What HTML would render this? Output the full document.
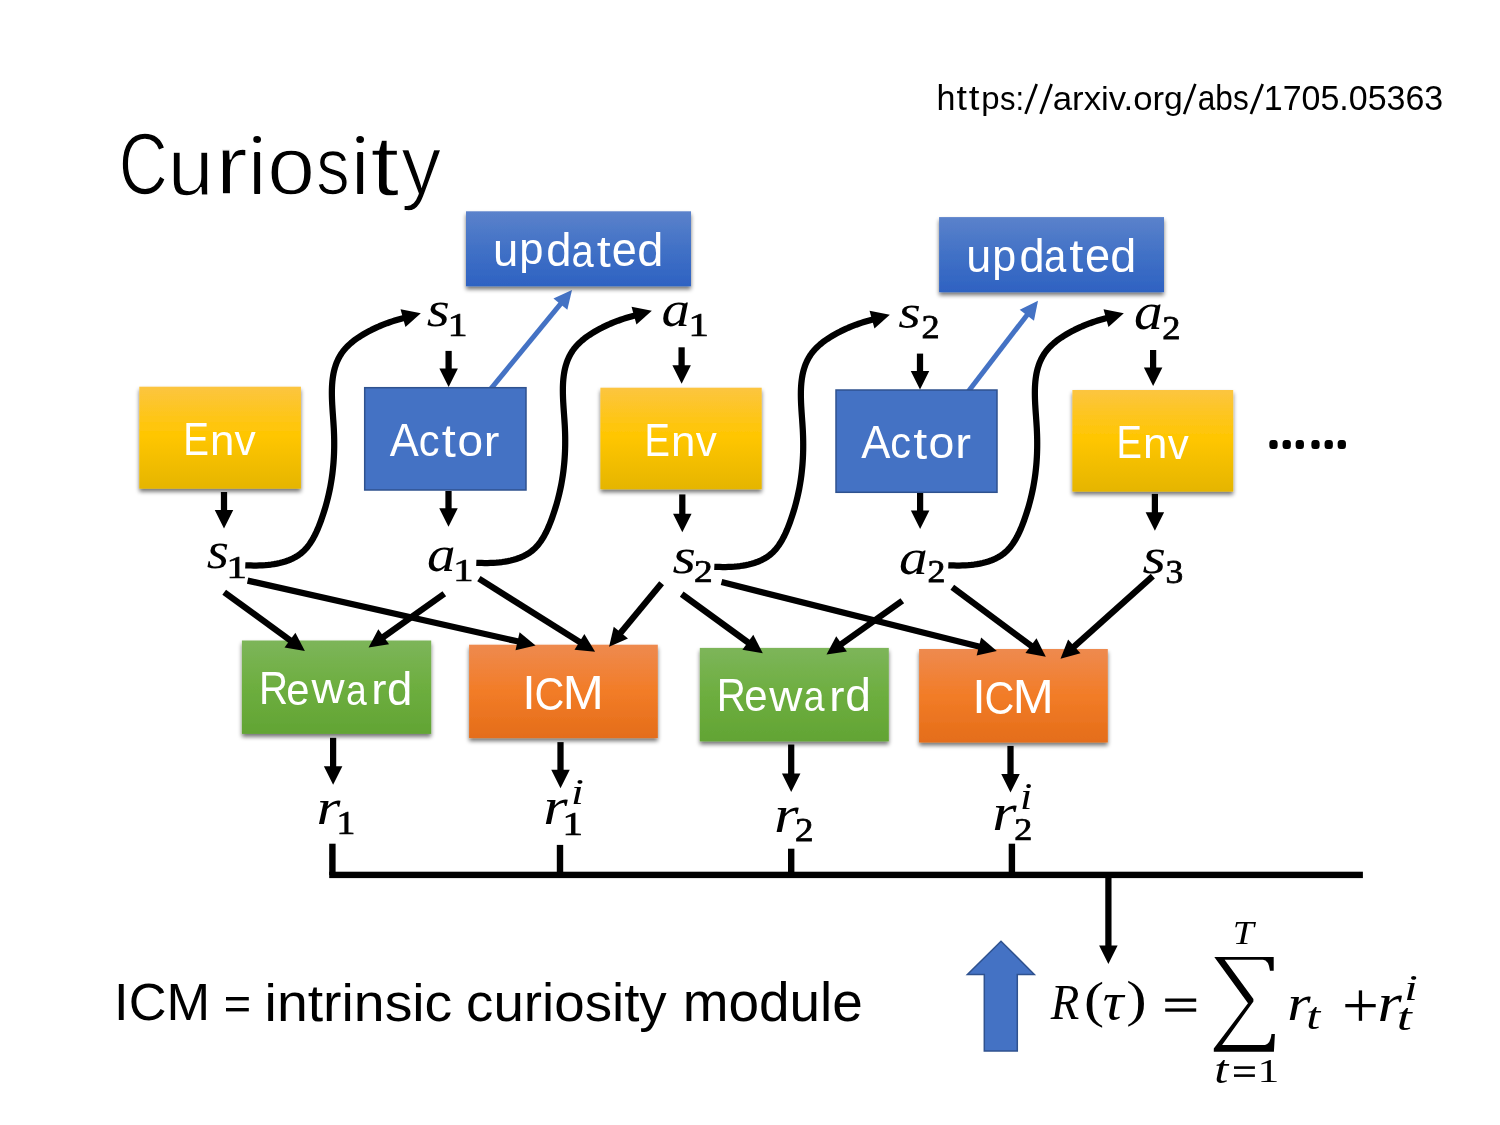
<!DOCTYPE html>
<html><head><meta charset="utf-8"><style>html,body{margin:0;padding:0;background:#fff;}svg{display:block;will-change:transform;}</style></head>
<body><svg width="1500" height="1125" viewBox="0 0 1500 1125">
<rect width="1500" height="1125" fill="#fff"/>
<defs>
<filter id="sh" x="-20%" y="-30%" width="140%" height="170%">
  <feGaussianBlur in="SourceAlpha" stdDeviation="2.2"/>
  <feOffset dx="0.3" dy="2.8" result="b"/>
  <feComponentTransfer><feFuncA type="linear" slope="0.55"/></feComponentTransfer>
  <feMerge><feMergeNode/><feMergeNode in="SourceGraphic"/></feMerge>
</filter>
<linearGradient id="gEnv" x1="0" y1="0" x2="0" y2="1">
  <stop offset="0" stop-color="#FCC540"/><stop offset="0.48" stop-color="#FFC600"/><stop offset="1" stop-color="#E5B500"/></linearGradient>
<linearGradient id="gBlue" x1="0" y1="0" x2="0" y2="1">
  <stop offset="0" stop-color="#5B82CB"/><stop offset="0.5" stop-color="#4171C6"/><stop offset="1" stop-color="#2E62C2"/></linearGradient>
<linearGradient id="gGreen" x1="0" y1="0" x2="0" y2="1">
  <stop offset="0" stop-color="#7DB55A"/><stop offset="0.5" stop-color="#6DAE3F"/><stop offset="1" stop-color="#62A434"/></linearGradient>
<linearGradient id="gOrange" x1="0" y1="0" x2="0" y2="1">
  <stop offset="0" stop-color="#EE8A4F"/><stop offset="0.5" stop-color="#F27C27"/><stop offset="1" stop-color="#E46D1A"/></linearGradient>
</defs>
<line x1="490.40" y1="389.30" x2="561.02" y2="303.37" stroke="#4472C4" stroke-width="5" stroke-linecap="butt"/><polygon points="572.00,290.00 567.33,309.85 553.43,298.42" fill="#4472C4"/>
<line x1="967.90" y1="391.90" x2="1027.46" y2="314.42" stroke="#4472C4" stroke-width="5" stroke-linecap="butt"/><polygon points="1038.00,300.70 1033.98,320.69 1019.71,309.72" fill="#4472C4"/>
<rect x="466" y="211.3" width="225.00" height="75.00" fill="url(#gBlue)" filter="url(#sh)"/>
<rect x="939.1" y="217.1" width="224.90" height="75.10" fill="url(#gBlue)" filter="url(#sh)"/>
<rect x="139.3" y="386.7" width="161.60" height="102.00" fill="url(#gEnv)" filter="url(#sh)"/>
<rect x="364.7" y="387.7" width="161.30" height="102.30" fill="#4472C4" stroke="#2F528F" stroke-width="1.5"/>
<rect x="600.4" y="387.7" width="161.30" height="101.60" fill="url(#gEnv)" filter="url(#sh)"/>
<rect x="836" y="390" width="161.00" height="102.30" fill="#4472C4" stroke="#2F528F" stroke-width="1.5"/>
<rect x="1072.4" y="390" width="160.80" height="101.60" fill="url(#gEnv)" filter="url(#sh)"/>
<rect x="241.9" y="640.5" width="189.30" height="93.40" fill="url(#gGreen)" filter="url(#sh)"/>
<rect x="469.1" y="644.7" width="188.70" height="93.40" fill="url(#gOrange)" filter="url(#sh)"/>
<rect x="699.8" y="647.9" width="189.00" height="93.50" fill="url(#gGreen)" filter="url(#sh)"/>
<rect x="919.1" y="649" width="188.70" height="93.50" fill="url(#gOrange)" filter="url(#sh)"/>
<line x1="448.60" y1="350.90" x2="448.60" y2="369.40" stroke="#000" stroke-width="6.25" stroke-linecap="butt"/><polygon points="448.60,386.90 439.35,368.40 457.85,368.40" fill="#000"/>
<line x1="681.60" y1="347.30" x2="681.60" y2="366.30" stroke="#000" stroke-width="6.25" stroke-linecap="butt"/><polygon points="681.60,383.80 672.35,365.30 690.85,365.30" fill="#000"/>
<line x1="920.00" y1="353.60" x2="920.00" y2="372.10" stroke="#000" stroke-width="6.25" stroke-linecap="butt"/><polygon points="920.00,389.60 910.75,371.10 929.25,371.10" fill="#000"/>
<line x1="1153.10" y1="350.00" x2="1153.10" y2="368.50" stroke="#000" stroke-width="6.25" stroke-linecap="butt"/><polygon points="1153.10,386.00 1143.85,367.50 1162.35,367.50" fill="#000"/>
<line x1="224.00" y1="492.00" x2="224.00" y2="511.00" stroke="#000" stroke-width="6.25" stroke-linecap="butt"/><polygon points="224.00,528.50 214.75,510.00 233.25,510.00" fill="#000"/>
<line x1="448.50" y1="491.00" x2="448.50" y2="509.20" stroke="#000" stroke-width="6.25" stroke-linecap="butt"/><polygon points="448.50,526.70 439.25,508.20 457.75,508.20" fill="#000"/>
<line x1="682.30" y1="494.40" x2="682.30" y2="514.80" stroke="#000" stroke-width="6.25" stroke-linecap="butt"/><polygon points="682.30,532.30 673.05,513.80 691.55,513.80" fill="#000"/>
<line x1="920.10" y1="493.00" x2="920.10" y2="511.60" stroke="#000" stroke-width="6.25" stroke-linecap="butt"/><polygon points="920.10,529.10 910.85,510.60 929.35,510.60" fill="#000"/>
<line x1="1154.90" y1="493.90" x2="1154.90" y2="513.20" stroke="#000" stroke-width="6.25" stroke-linecap="butt"/><polygon points="1154.90,530.70 1145.65,512.20 1164.15,512.20" fill="#000"/>
<line x1="333.10" y1="737.80" x2="333.10" y2="767.20" stroke="#000" stroke-width="6.25" stroke-linecap="butt"/><polygon points="333.10,784.70 323.85,766.20 342.35,766.20" fill="#000"/>
<line x1="560.50" y1="742.10" x2="560.50" y2="770.80" stroke="#000" stroke-width="6.25" stroke-linecap="butt"/><polygon points="560.50,788.30 551.25,769.80 569.75,769.80" fill="#000"/>
<line x1="791.20" y1="744.50" x2="791.20" y2="774.40" stroke="#000" stroke-width="6.25" stroke-linecap="butt"/><polygon points="791.20,791.90 781.95,773.40 800.45,773.40" fill="#000"/>
<line x1="1010.50" y1="745.90" x2="1010.50" y2="775.10" stroke="#000" stroke-width="6.25" stroke-linecap="butt"/><polygon points="1010.50,792.60 1001.25,774.10 1019.75,774.10" fill="#000"/>
<line x1="1108.40" y1="878.00" x2="1108.40" y2="946.60" stroke="#000" stroke-width="6.25" stroke-linecap="butt"/><polygon points="1108.40,964.10 1099.15,945.60 1117.65,945.60" fill="#000"/>
<path d="M245.30,565.30 L248.02,565.41 L250.81,565.48 L253.63,565.52 L256.50,565.51 L259.39,565.44 L262.31,565.32 L265.23,565.13 L268.16,564.87 L271.08,564.53 L273.98,564.11 L276.86,563.60 L279.70,563.00 L282.50,562.29 L285.25,561.48 L287.94,560.56 L290.56,559.51 L293.09,558.34 L295.54,557.04 L297.89,555.61 L300.14,554.02 L302.27,552.30 L304.28,550.42 L306.17,548.39 L307.96,546.25 L309.63,543.98 L311.22,541.61 L312.71,539.15 L314.11,536.61 L315.44,533.99 L316.69,531.33 L317.88,528.62 L319.00,525.87 L320.07,523.11 L321.09,520.33 L322.07,517.56 L323.01,514.80 L323.91,512.04 L324.76,509.28 L325.58,506.52 L326.36,503.77 L327.09,501.02 L327.79,498.27 L328.45,495.52 L329.07,492.78 L329.66,490.03 L330.21,487.28 L330.72,484.52 L331.19,481.77 L331.63,479.01 L332.03,476.25 L332.40,473.48 L332.73,470.71 L333.02,467.94 L333.29,465.16 L333.52,462.37 L333.71,459.57 L333.88,456.77 L334.01,453.95 L334.10,451.13 L334.17,448.30 L334.20,445.46 L334.21,442.61 L334.18,439.74 L334.12,436.87 L334.04,433.98 L333.92,431.08 L333.78,428.16 L333.60,425.23 L333.41,422.29 L333.21,419.34 L333.00,416.39 L332.79,413.44 L332.58,410.48 L332.39,407.53 L332.22,404.59 L332.07,401.65 L331.96,398.73 L331.89,395.82 L331.86,392.93 L331.89,390.06 L331.97,387.21 L332.12,384.39 L332.35,381.59 L332.65,378.83 L333.03,376.10 L333.51,373.41 L334.09,370.75 L334.78,368.14 L335.57,365.58 L336.48,363.06 L337.52,360.59 L338.69,358.18 L340.00,355.82 L341.45,353.52 L343.06,351.29 L344.82,349.12 L346.74,347.01 L348.82,344.98 L351.03,343.01 L353.35,341.11 L355.78,339.29 L358.29,337.54 L360.86,335.86 L363.49,334.26 L366.14,332.73 L368.81,331.29 L371.47,329.91 L374.12,328.62 L376.74,327.41 L379.33,326.26 L381.91,325.19 L384.48,324.17 L387.05,323.20 L389.64,322.29 L392.24,321.41 L394.87,320.57 L397.53,319.76 L400.24,318.97 L403.00,318.20 L403.96,317.94" fill="none" stroke="#000" stroke-width="6.25" stroke-linecap="butt" stroke-linejoin="round"/><polygon points="420.84,313.30 405.45,327.12 400.55,309.28" fill="#000"/>
<path d="M476.30,562.80 L479.02,562.91 L481.81,562.98 L484.63,563.02 L487.50,563.01 L490.39,562.94 L493.31,562.82 L496.23,562.63 L499.16,562.37 L502.08,562.03 L504.98,561.61 L507.86,561.10 L510.70,560.50 L513.50,559.79 L516.25,558.98 L518.94,558.06 L521.56,557.01 L524.09,555.84 L526.54,554.54 L528.89,553.11 L531.14,551.52 L533.27,549.80 L535.28,547.92 L537.17,545.89 L538.96,543.75 L540.63,541.48 L542.22,539.11 L543.71,536.65 L545.11,534.11 L546.44,531.49 L547.69,528.83 L548.88,526.12 L550.00,523.37 L551.07,520.61 L552.09,517.83 L553.07,515.06 L554.01,512.30 L554.91,509.54 L555.76,506.78 L556.58,504.02 L557.36,501.27 L558.09,498.52 L558.79,495.77 L559.45,493.02 L560.07,490.28 L560.66,487.53 L561.21,484.78 L561.72,482.02 L562.19,479.27 L562.63,476.51 L563.03,473.75 L563.40,470.98 L563.73,468.21 L564.02,465.44 L564.29,462.66 L564.52,459.87 L564.71,457.07 L564.88,454.27 L565.01,451.45 L565.10,448.63 L565.17,445.80 L565.20,442.96 L565.21,440.11 L565.18,437.24 L565.12,434.37 L565.04,431.48 L564.92,428.58 L564.78,425.66 L564.60,422.73 L564.41,419.79 L564.21,416.84 L564.00,413.89 L563.79,410.94 L563.58,407.98 L563.39,405.03 L563.22,402.09 L563.07,399.15 L562.96,396.23 L562.89,393.32 L562.86,390.43 L562.89,387.56 L562.97,384.71 L563.12,381.89 L563.35,379.09 L563.65,376.33 L564.03,373.60 L564.51,370.91 L565.09,368.25 L565.78,365.64 L566.57,363.08 L567.48,360.56 L568.52,358.09 L569.69,355.68 L571.00,353.32 L572.45,351.02 L574.06,348.79 L575.82,346.62 L577.74,344.51 L579.82,342.48 L582.03,340.51 L584.35,338.61 L586.78,336.79 L589.29,335.04 L591.86,333.36 L594.49,331.76 L597.14,330.23 L599.81,328.79 L602.47,327.41 L605.12,326.12 L607.74,324.91 L610.33,323.76 L612.91,322.69 L615.48,321.67 L618.05,320.70 L620.64,319.79 L623.24,318.91 L625.87,318.07 L628.53,317.26 L631.24,316.47 L634.00,315.70 L634.96,315.44" fill="none" stroke="#000" stroke-width="6.25" stroke-linecap="butt" stroke-linejoin="round"/><polygon points="651.84,310.80 636.45,324.62 631.55,306.78" fill="#000"/>
<path d="M714.30,566.80 L717.02,566.91 L719.81,566.98 L722.63,567.02 L725.50,567.01 L728.39,566.94 L731.31,566.82 L734.23,566.63 L737.16,566.37 L740.08,566.03 L742.98,565.61 L745.86,565.10 L748.70,564.50 L751.50,563.79 L754.25,562.98 L756.94,562.06 L759.56,561.01 L762.09,559.84 L764.54,558.54 L766.89,557.11 L769.14,555.52 L771.27,553.80 L773.28,551.92 L775.17,549.89 L776.96,547.75 L778.63,545.48 L780.22,543.11 L781.71,540.65 L783.11,538.11 L784.44,535.49 L785.69,532.83 L786.88,530.12 L788.00,527.37 L789.07,524.61 L790.09,521.83 L791.07,519.06 L792.01,516.30 L792.91,513.54 L793.76,510.78 L794.58,508.02 L795.36,505.27 L796.09,502.52 L796.79,499.77 L797.45,497.02 L798.07,494.28 L798.66,491.53 L799.21,488.78 L799.72,486.02 L800.19,483.27 L800.63,480.51 L801.03,477.75 L801.40,474.98 L801.73,472.21 L802.02,469.44 L802.29,466.66 L802.52,463.87 L802.71,461.07 L802.88,458.27 L803.01,455.45 L803.10,452.63 L803.17,449.80 L803.20,446.96 L803.21,444.11 L803.18,441.24 L803.12,438.37 L803.04,435.48 L802.92,432.58 L802.78,429.66 L802.60,426.73 L802.41,423.79 L802.21,420.84 L802.00,417.89 L801.79,414.94 L801.58,411.98 L801.39,409.03 L801.22,406.09 L801.07,403.15 L800.96,400.23 L800.89,397.32 L800.86,394.43 L800.89,391.56 L800.97,388.71 L801.12,385.89 L801.35,383.09 L801.65,380.33 L802.03,377.60 L802.51,374.91 L803.09,372.25 L803.78,369.64 L804.57,367.08 L805.48,364.56 L806.52,362.09 L807.69,359.68 L809.00,357.32 L810.45,355.02 L812.06,352.79 L813.82,350.62 L815.74,348.51 L817.82,346.48 L820.03,344.51 L822.35,342.61 L824.78,340.79 L827.29,339.04 L829.86,337.36 L832.49,335.76 L835.14,334.23 L837.81,332.79 L840.47,331.41 L843.12,330.12 L845.74,328.91 L848.33,327.76 L850.91,326.69 L853.48,325.67 L856.05,324.70 L858.64,323.79 L861.24,322.91 L863.87,322.07 L866.53,321.26 L869.24,320.47 L872.00,319.70 L872.96,319.44" fill="none" stroke="#000" stroke-width="6.25" stroke-linecap="butt" stroke-linejoin="round"/><polygon points="889.84,314.80 874.45,328.62 869.55,310.78" fill="#000"/>
<path d="M948.30,565.30 L951.02,565.41 L953.81,565.48 L956.63,565.52 L959.50,565.51 L962.39,565.44 L965.31,565.32 L968.23,565.13 L971.16,564.87 L974.08,564.53 L976.98,564.11 L979.86,563.60 L982.70,563.00 L985.50,562.29 L988.25,561.48 L990.94,560.56 L993.56,559.51 L996.09,558.34 L998.54,557.04 L1000.89,555.61 L1003.14,554.02 L1005.27,552.30 L1007.28,550.42 L1009.17,548.39 L1010.96,546.25 L1012.63,543.98 L1014.22,541.61 L1015.71,539.15 L1017.11,536.61 L1018.44,533.99 L1019.69,531.33 L1020.88,528.62 L1022.00,525.87 L1023.07,523.11 L1024.09,520.33 L1025.07,517.56 L1026.01,514.80 L1026.91,512.04 L1027.76,509.28 L1028.58,506.52 L1029.36,503.77 L1030.09,501.02 L1030.79,498.27 L1031.45,495.52 L1032.07,492.78 L1032.66,490.03 L1033.21,487.28 L1033.72,484.52 L1034.19,481.77 L1034.63,479.01 L1035.03,476.25 L1035.40,473.48 L1035.73,470.71 L1036.02,467.94 L1036.29,465.16 L1036.52,462.37 L1036.71,459.57 L1036.88,456.77 L1037.01,453.95 L1037.10,451.13 L1037.17,448.30 L1037.20,445.46 L1037.21,442.61 L1037.18,439.74 L1037.12,436.87 L1037.04,433.98 L1036.92,431.08 L1036.78,428.16 L1036.60,425.23 L1036.41,422.29 L1036.21,419.34 L1036.00,416.39 L1035.79,413.44 L1035.58,410.48 L1035.39,407.53 L1035.22,404.59 L1035.07,401.65 L1034.96,398.73 L1034.89,395.82 L1034.86,392.93 L1034.89,390.06 L1034.97,387.21 L1035.12,384.39 L1035.35,381.59 L1035.65,378.83 L1036.03,376.10 L1036.51,373.41 L1037.09,370.75 L1037.78,368.14 L1038.57,365.58 L1039.48,363.06 L1040.52,360.59 L1041.69,358.18 L1043.00,355.82 L1044.45,353.52 L1046.06,351.29 L1047.82,349.12 L1049.74,347.01 L1051.82,344.98 L1054.03,343.01 L1056.35,341.11 L1058.78,339.29 L1061.29,337.54 L1063.86,335.86 L1066.49,334.26 L1069.14,332.73 L1071.81,331.29 L1074.47,329.91 L1077.12,328.62 L1079.74,327.41 L1082.33,326.26 L1084.91,325.19 L1087.48,324.17 L1090.05,323.20 L1092.64,322.29 L1095.24,321.41 L1097.87,320.57 L1100.53,319.76 L1103.24,318.97 L1106.00,318.20 L1106.96,317.94" fill="none" stroke="#000" stroke-width="6.25" stroke-linecap="butt" stroke-linejoin="round"/><polygon points="1123.84,313.30 1108.45,327.12 1103.55,309.28" fill="#000"/>
<line x1="224.20" y1="592.20" x2="290.76" y2="640.69" stroke="#000" stroke-width="6.25" stroke-linecap="butt"/><polygon points="304.90,651.00 284.50,647.58 295.40,632.63" fill="#000"/>
<line x1="247.60" y1="580.60" x2="518.53" y2="641.56" stroke="#000" stroke-width="6.25" stroke-linecap="butt"/><polygon points="535.60,645.40 515.52,650.36 519.58,632.31" fill="#000"/>
<line x1="444.30" y1="593.80" x2="382.87" y2="637.37" stroke="#000" stroke-width="6.25" stroke-linecap="butt"/><polygon points="368.60,647.50 378.34,629.25 389.04,644.34" fill="#000"/>
<line x1="478.90" y1="578.70" x2="580.28" y2="642.39" stroke="#000" stroke-width="6.25" stroke-linecap="butt"/><polygon points="595.10,651.70 574.51,649.69 584.36,634.03" fill="#000"/>
<line x1="661.60" y1="583.30" x2="620.25" y2="633.31" stroke="#000" stroke-width="6.25" stroke-linecap="butt"/><polygon points="609.10,646.80 613.76,626.65 628.02,638.44" fill="#000"/>
<line x1="681.70" y1="594.10" x2="748.66" y2="642.89" stroke="#000" stroke-width="6.25" stroke-linecap="butt"/><polygon points="762.80,653.20 742.40,649.78 753.30,634.83" fill="#000"/>
<line x1="721.50" y1="582.00" x2="979.83" y2="646.84" stroke="#000" stroke-width="6.25" stroke-linecap="butt"/><polygon points="996.80,651.10 976.60,655.57 981.11,637.62" fill="#000"/>
<line x1="902.30" y1="600.80" x2="840.77" y2="644.47" stroke="#000" stroke-width="6.25" stroke-linecap="butt"/><polygon points="826.50,654.60 836.23,636.35 846.94,651.44" fill="#000"/>
<line x1="952.30" y1="587.20" x2="1031.76" y2="646.26" stroke="#000" stroke-width="6.25" stroke-linecap="butt"/><polygon points="1045.80,656.70 1025.43,653.09 1036.47,638.24" fill="#000"/>
<line x1="1152.80" y1="576.20" x2="1073.54" y2="647.13" stroke="#000" stroke-width="6.25" stroke-linecap="butt"/><polygon points="1060.50,658.80 1068.12,639.57 1080.45,653.36" fill="#000"/>
<rect x="329.20" y="843.7" width="6.4" height="31.30" fill="#000"/>
<rect x="556.80" y="844.9" width="6.4" height="30.10" fill="#000"/>
<rect x="788.00" y="848.7" width="6.4" height="26.30" fill="#000"/>
<rect x="1008.70" y="843.7" width="6.4" height="31.30" fill="#000"/>
<rect x="329.2" y="871.7" width="1033.7" height="6.4" fill="#000"/>
<line x1="1025.50" y1="113.90" x2="1036.70" y2="84.00" stroke="#000" stroke-width="2.7"/>
<line x1="1040.60" y1="113.90" x2="1051.60" y2="84.00" stroke="#000" stroke-width="2.7"/>
<line x1="1184.10" y1="114.10" x2="1195.30" y2="83.90" stroke="#000" stroke-width="2.7"/>
<line x1="1250.90" y1="114.10" x2="1262.70" y2="83.90" stroke="#000" stroke-width="2.7"/>
<rect x="254.2" y="152.1" width="5.9" height="42" rx="1.2" fill="#000"/>
<ellipse cx="257.15" cy="139.45" rx="3.85" ry="3.5" fill="#000"/>
<rect x="357.2" y="152.1" width="5.9" height="42" rx="1.2" fill="#000"/>
<ellipse cx="360.15" cy="139.45" rx="3.85" ry="3.5" fill="#000"/>
<rect x="1269.35" y="440" width="8.3" height="8.9" rx="3" ry="3.5" fill="#000"/>
<rect x="1282.55" y="440" width="8.3" height="8.9" rx="3" ry="3.5" fill="#000"/>
<rect x="1295.65" y="440" width="8.3" height="8.9" rx="3" ry="3.5" fill="#000"/>
<rect x="1311.35" y="440" width="8.3" height="8.9" rx="3" ry="3.5" fill="#000"/>
<rect x="1324.55" y="440" width="8.3" height="8.9" rx="3" ry="3.5" fill="#000"/>
<rect x="1337.65" y="440" width="8.3" height="8.9" rx="3" ry="3.5" fill="#000"/>
<polygon points="1001,941.2 1034.3,974.4 1017.3,974.4 1017.3,1050.9 984.3,1050.9 984.3,974.4 967.4,974.4" fill="#4472C4" stroke="#2F528F" stroke-width="1.5"/>
<path d="M1214.3,957 L1273.7,957 L1273.7,970.7 L1270,970.7 Q1268.5,960 1263,959.8 L1224.6,959.8 L1253.4,999 L1253.4,1001.5 L1222.1,1044.9 L1265,1044.9 Q1270.5,1044 1271.5,1034.1 L1274.9,1034.1 L1273.9,1051.7 L1213.8,1051.7 L1213.8,1048.5 L1248,1003.3 Z" fill="#000"/>
<rect x="1165.2" y="998.5" width="31" height="3.3" fill="#000"/><rect x="1165.2" y="1008.4" width="31" height="3.3" fill="#000"/>
<rect x="226" y="997" width="22.8" height="3.4" fill="#000"/><rect x="226" y="1008" width="22.8" height="3.4" fill="#000"/>
<rect x="1234" y="1066.3" width="20.9" height="2.6" fill="#000"/><rect x="1234" y="1074.3" width="20.9" height="2.6" fill="#000"/>
<rect x="1345.3" y="1004" width="30.4" height="3.3" fill="#000"/><rect x="1358.8" y="990.4" width="3.3" height="30.4" fill="#000"/>
<text transform="matrix(0.75987 0 0 0.96682 118.79 194.31)" font-family="&quot;Liberation Sans&quot;, sans-serif" font-style="normal" font-size="89.25" fill="#000" stroke="#fff" stroke-width="1.622">C</text>
<text transform="matrix(0.88732 0 0 0.88742 167.87 195.11)" font-family="&quot;Liberation Sans&quot;, sans-serif" font-style="normal" font-size="92.90" fill="#000" stroke="#fff" stroke-width="1.578">u</text>
<text transform="matrix(1.05245 0 0 0.91232 215.38 194.16)" font-family="&quot;Liberation Sans&quot;, sans-serif" font-style="normal" font-size="91.91" fill="#000" stroke="#fff" stroke-width="1.425">r</text>
<text transform="matrix(0.94197 0 0 0.90312 267.19 194.43)" font-family="&quot;Liberation Sans&quot;, sans-serif" font-style="normal" font-size="91.25" fill="#000" stroke="#fff" stroke-width="1.518">o</text>
<text transform="matrix(0.73271 0 0 0.90244 316.21 194.49)" font-family="&quot;Liberation Sans&quot;, sans-serif" font-style="normal" font-size="91.25" fill="#000" stroke="#fff" stroke-width="1.712">s</text>
<text transform="matrix(1.10593 0 0 0.90161 370.27 194.70)" font-family="&quot;Liberation Sans&quot;, sans-serif" font-style="normal" font-size="94.74" fill="#000" stroke="#fff" stroke-width="1.395">t</text>
<text transform="matrix(0.90936 0 0 0.94010 401.28 194.05)" font-family="&quot;Liberation Sans&quot;, sans-serif" font-style="normal" font-size="87.76" fill="#000" stroke="#fff" stroke-width="1.514">y</text>
<text transform="matrix(0.90759 0 0 0.94823 936.53 109.69)" font-family="&quot;Liberation Sans&quot;, sans-serif" font-style="normal" font-size="37.54" fill="#000">h</text>
<text transform="matrix(0.93505 0 0 0.87518 956.46 110.03)" font-family="&quot;Liberation Sans&quot;, sans-serif" font-style="normal" font-size="40.18" fill="#000">t</text>
<text transform="matrix(0.95539 0 0 0.87518 968.65 110.03)" font-family="&quot;Liberation Sans&quot;, sans-serif" font-style="normal" font-size="40.18" fill="#000">t</text>
<text transform="matrix(0.93308 0 0 0.88615 981.20 108.59)" font-family="&quot;Liberation Sans&quot;, sans-serif" font-style="normal" font-size="35.29" fill="#000">p</text>
<text transform="matrix(0.82671 0 0 0.88241 1000.02 110.39)" font-family="&quot;Liberation Sans&quot;, sans-serif" font-style="normal" font-size="37.53" fill="#000">s:</text>
<text transform="matrix(0.95036 0 0 0.91123 1052.77 110.41)" font-family="&quot;Liberation Sans&quot;, sans-serif" font-style="normal" font-size="36.59" fill="#000">arxiv.or</text>
<text transform="matrix(1.02397 0 0 0.95231 1163.97 109.37)" font-family="&quot;Liberation Sans&quot;, sans-serif" font-style="normal" font-size="32.83" fill="#000">g</text>
<text transform="matrix(0.84903 0 0 0.94952 1197.67 110.03)" font-family="&quot;Liberation Sans&quot;, sans-serif" font-style="normal" font-size="37.29" fill="#000">abs</text>
<text transform="matrix(0.96277 0 0 1.00000 1263.81 110.07)" font-family="&quot;Liberation Sans&quot;, sans-serif" font-style="normal" font-size="35.29" fill="#000">1705.05363</text>
<text transform="matrix(0.95373 0 0 0.94537 114.10 1019.97)" font-family="&quot;Liberation Sans&quot;, sans-serif" font-style="normal" font-size="54.93" fill="#000">ICM</text>
<text transform="matrix(0.97151 0 0 0.90857 264.61 1020.96)" font-family="&quot;Liberation Sans&quot;, sans-serif" font-style="normal" font-size="57.01" fill="#000">intrinsic</text>
<text transform="matrix(0.97956 0 0 0.95941 466.08 1021.00)" font-family="&quot;Liberation Sans&quot;, sans-serif" font-style="normal" font-size="55.86" fill="#000">curiosity</text>
<text transform="matrix(0.96152 0 0 0.96174 682.67 1020.58)" font-family="&quot;Liberation Sans&quot;, sans-serif" font-style="normal" font-size="57.14" fill="#000">module</text>
<text transform="matrix(0.85208 0 0 0.85687 493.09 266.09)" font-family="&quot;Liberation Sans&quot;, sans-serif" font-style="normal" font-size="53.33" fill="#fff">u</text>
<text transform="matrix(0.90153 0 0 0.91214 519.35 264.37)" font-family="&quot;Liberation Sans&quot;, sans-serif" font-style="normal" font-size="48.24" fill="#fff">p</text>
<text transform="matrix(0.92647 0 0 0.95019 546.27 265.95)" font-family="&quot;Liberation Sans&quot;, sans-serif" font-style="normal" font-size="48.86" fill="#fff">d</text>
<text transform="matrix(0.75192 0 0 0.87330 571.39 266.50)" font-family="&quot;Liberation Sans&quot;, sans-serif" font-style="normal" font-size="53.05" fill="#fff">a</text>
<text transform="matrix(0.97049 0 0 0.84952 596.68 266.50)" font-family="&quot;Liberation Sans&quot;, sans-serif" font-style="normal" font-size="51.93" fill="#fff">t</text>
<text transform="matrix(0.85828 0 0 0.90332 611.76 266.43)" font-family="&quot;Liberation Sans&quot;, sans-serif" font-style="normal" font-size="52.50" fill="#fff">e</text>
<text transform="matrix(0.96191 0 0 0.95019 637.13 265.95)" font-family="&quot;Liberation Sans&quot;, sans-serif" font-style="normal" font-size="48.86" fill="#fff">d</text>
<text transform="matrix(0.84126 0 0 0.85687 966.24 271.54)" font-family="&quot;Liberation Sans&quot;, sans-serif" font-style="normal" font-size="53.33" fill="#fff">u</text>
<text transform="matrix(0.89069 0 0 0.91214 992.37 270.91)" font-family="&quot;Liberation Sans&quot;, sans-serif" font-style="normal" font-size="48.24" fill="#fff">p</text>
<text transform="matrix(0.92201 0 0 0.95019 1019.48 271.54)" font-family="&quot;Liberation Sans&quot;, sans-serif" font-style="normal" font-size="48.86" fill="#fff">d</text>
<text transform="matrix(0.75352 0 0 0.87330 1043.97 272.02)" font-family="&quot;Liberation Sans&quot;, sans-serif" font-style="normal" font-size="53.05" fill="#fff">a</text>
<text transform="matrix(0.97566 0 0 0.87679 1069.28 271.99)" font-family="&quot;Liberation Sans&quot;, sans-serif" font-style="normal" font-size="51.93" fill="#fff">t</text>
<text transform="matrix(0.86042 0 0 0.90332 1084.94 272.00)" font-family="&quot;Liberation Sans&quot;, sans-serif" font-style="normal" font-size="52.50" fill="#fff">e</text>
<text transform="matrix(0.95753 0 0 0.95019 1110.27 271.54)" font-family="&quot;Liberation Sans&quot;, sans-serif" font-style="normal" font-size="48.86" fill="#fff">d</text>
<text transform="matrix(0.78950 0 0 0.94031 183.20 455.00)" font-family="&quot;Liberation Sans&quot;, sans-serif" font-style="normal" font-size="48.85" fill="#fff">E</text>
<text transform="matrix(0.89133 0 0 0.86835 209.88 455.21)" font-family="&quot;Liberation Sans&quot;, sans-serif" font-style="normal" font-size="49.25" fill="#fff">n</text>
<text transform="matrix(0.86205 0 0 0.86835 234.54 454.57)" font-family="&quot;Liberation Sans&quot;, sans-serif" font-style="normal" font-size="49.25" fill="#fff">v</text>
<text transform="matrix(0.78119 0 0 0.94031 644.62 456.00)" font-family="&quot;Liberation Sans&quot;, sans-serif" font-style="normal" font-size="48.85" fill="#fff">E</text>
<text transform="matrix(0.89028 0 0 0.86835 671.00 456.21)" font-family="&quot;Liberation Sans&quot;, sans-serif" font-style="normal" font-size="49.25" fill="#fff">n</text>
<text transform="matrix(0.85487 0 0 0.86835 695.64 455.57)" font-family="&quot;Liberation Sans&quot;, sans-serif" font-style="normal" font-size="49.25" fill="#fff">v</text>
<text transform="matrix(0.78119 0 0 0.94031 1116.62 458.10)" font-family="&quot;Liberation Sans&quot;, sans-serif" font-style="normal" font-size="48.85" fill="#fff">E</text>
<text transform="matrix(0.89028 0 0 0.86835 1143.00 458.41)" font-family="&quot;Liberation Sans&quot;, sans-serif" font-style="normal" font-size="49.25" fill="#fff">n</text>
<text transform="matrix(0.85487 0 0 0.86835 1167.64 458.61)" font-family="&quot;Liberation Sans&quot;, sans-serif" font-style="normal" font-size="49.25" fill="#fff">v</text>
<text transform="matrix(0.88604 0 0 0.95076 389.68 456.00)" font-family="&quot;Liberation Sans&quot;, sans-serif" font-style="normal" font-size="49.16" fill="#fff">A</text>
<text transform="matrix(0.85187 0 0 0.90295 418.66 455.89)" font-family="&quot;Liberation Sans&quot;, sans-serif" font-style="normal" font-size="48.75" fill="#fff">c</text>
<text transform="matrix(0.98255 0 0 0.88754 441.73 456.52)" font-family="&quot;Liberation Sans&quot;, sans-serif" font-style="normal" font-size="51.58" fill="#fff">t</text>
<text transform="matrix(0.94456 0 0 0.90295 457.39 455.89)" font-family="&quot;Liberation Sans&quot;, sans-serif" font-style="normal" font-size="48.75" fill="#fff">o</text>
<text transform="matrix(0.94932 0 0 0.86114 483.72 456.00)" font-family="&quot;Liberation Sans&quot;, sans-serif" font-style="normal" font-size="49.36" fill="#fff">r</text>
<text transform="matrix(0.88874 0 0 0.95076 861.19 458.06)" font-family="&quot;Liberation Sans&quot;, sans-serif" font-style="normal" font-size="49.16" fill="#fff">A</text>
<text transform="matrix(0.85119 0 0 0.90295 890.18 458.03)" font-family="&quot;Liberation Sans&quot;, sans-serif" font-style="normal" font-size="48.75" fill="#fff">c</text>
<text transform="matrix(0.97184 0 0 0.87599 913.18 458.60)" font-family="&quot;Liberation Sans&quot;, sans-serif" font-style="normal" font-size="51.58" fill="#fff">t</text>
<text transform="matrix(0.95291 0 0 0.90295 928.60 458.03)" font-family="&quot;Liberation Sans&quot;, sans-serif" font-style="normal" font-size="48.75" fill="#fff">o</text>
<text transform="matrix(0.95800 0 0 0.86114 955.15 458.02)" font-family="&quot;Liberation Sans&quot;, sans-serif" font-style="normal" font-size="49.36" fill="#fff">r</text>
<text transform="matrix(0.82669 0 0 0.94697 258.96 703.94)" font-family="&quot;Liberation Sans&quot;, sans-serif" font-style="normal" font-size="48.77" fill="#fff">R</text>
<text transform="matrix(0.85549 0 0 0.90295 286.36 704.66)" font-family="&quot;Liberation Sans&quot;, sans-serif" font-style="normal" font-size="48.75" fill="#fff">e</text>
<text transform="matrix(0.94156 0 0 0.87232 311.45 703.37)" font-family="&quot;Liberation Sans&quot;, sans-serif" font-style="normal" font-size="48.60" fill="#fff">w</text>
<text transform="matrix(0.75899 0 0 0.86950 345.92 704.59)" font-family="&quot;Liberation Sans&quot;, sans-serif" font-style="normal" font-size="49.26" fill="#fff">a</text>
<text transform="matrix(0.94196 0 0 0.87899 371.14 703.90)" font-family="&quot;Liberation Sans&quot;, sans-serif" font-style="normal" font-size="48.51" fill="#fff">r</text>
<text transform="matrix(0.92823 0 0 0.95700 387.10 704.61)" font-family="&quot;Liberation Sans&quot;, sans-serif" font-style="normal" font-size="49.14" fill="#fff">d</text>
<text transform="matrix(0.82574 0 0 0.94697 716.87 710.66)" font-family="&quot;Liberation Sans&quot;, sans-serif" font-style="normal" font-size="48.77" fill="#fff">R</text>
<text transform="matrix(0.85944 0 0 0.90295 744.22 711.37)" font-family="&quot;Liberation Sans&quot;, sans-serif" font-style="normal" font-size="48.75" fill="#fff">e</text>
<text transform="matrix(0.94211 0 0 0.87232 769.36 711.27)" font-family="&quot;Liberation Sans&quot;, sans-serif" font-style="normal" font-size="48.60" fill="#fff">w</text>
<text transform="matrix(0.75784 0 0 0.86950 803.67 711.41)" font-family="&quot;Liberation Sans&quot;, sans-serif" font-style="normal" font-size="49.26" fill="#fff">a</text>
<text transform="matrix(0.94366 0 0 0.87899 829.26 710.72)" font-family="&quot;Liberation Sans&quot;, sans-serif" font-style="normal" font-size="48.51" fill="#fff">r</text>
<text transform="matrix(0.93954 0 0 0.95700 845.13 711.42)" font-family="&quot;Liberation Sans&quot;, sans-serif" font-style="normal" font-size="49.14" fill="#fff">d</text>
<text transform="matrix(0.93776 0 0 0.95627 522.61 709.00)" font-family="&quot;Liberation Sans&quot;, sans-serif" font-style="normal" font-size="49.85" fill="#fff">I</text>
<text transform="matrix(0.84627 0 0 0.94428 534.56 709.63)" font-family="&quot;Liberation Sans&quot;, sans-serif" font-style="normal" font-size="48.81" fill="#fff">C</text>
<text transform="matrix(0.98759 0 0 0.95627 562.84 709.00)" font-family="&quot;Liberation Sans&quot;, sans-serif" font-style="normal" font-size="49.85" fill="#fff">M</text>
<text transform="matrix(0.93776 0 0 0.95627 972.61 713.09)" font-family="&quot;Liberation Sans&quot;, sans-serif" font-style="normal" font-size="49.85" fill="#fff">I</text>
<text transform="matrix(0.84627 0 0 0.94428 984.56 713.69)" font-family="&quot;Liberation Sans&quot;, sans-serif" font-style="normal" font-size="48.81" fill="#fff">C</text>
<text transform="matrix(0.98759 0 0 0.95627 1012.84 713.09)" font-family="&quot;Liberation Sans&quot;, sans-serif" font-style="normal" font-size="49.85" fill="#fff">M</text>
<text transform="matrix(1.18486 0 0 0.99913 426.63 325.82)" font-family="&quot;Liberation Serif&quot;, serif" font-style="italic" font-size="50.00" fill="#000">s</text>
<text transform="matrix(1.13995 0 0 0.99021 447.69 335.90)" font-family="&quot;Liberation Serif&quot;, serif" font-style="normal" font-size="34.66" fill="#000" stroke="#000" stroke-width="0.751">1</text>
<text transform="matrix(1.14136 0 0 1.02133 661.61 325.56)" font-family="&quot;Liberation Serif&quot;, serif" font-style="italic" font-size="50.00" fill="#000">a</text>
<text transform="matrix(1.18319 0 0 1.01158 688.45 335.58)" font-family="&quot;Liberation Serif&quot;, serif" font-style="normal" font-size="34.35" fill="#000" stroke="#000" stroke-width="0.729">1</text>
<text transform="matrix(1.17820 0 0 0.99708 898.23 328.02)" font-family="&quot;Liberation Serif&quot;, serif" font-style="italic" font-size="49.37" fill="#000">s</text>
<text transform="matrix(1.05441 0 0 0.97562 921.58 338.32)" font-family="&quot;Liberation Serif&quot;, serif" font-style="normal" font-size="34.39" fill="#000" stroke="#000" stroke-width="0.788">2</text>
<text transform="matrix(1.16577 0 0 1.05845 1133.91 328.75)" font-family="&quot;Liberation Serif&quot;, serif" font-style="italic" font-size="49.37" fill="#000">a</text>
<text transform="matrix(1.05822 0 0 0.97334 1162.36 338.63)" font-family="&quot;Liberation Serif&quot;, serif" font-style="normal" font-size="34.39" fill="#000" stroke="#000" stroke-width="0.788">2</text>
<text transform="matrix(1.11766 0 0 1.02470 206.67 568.49)" font-family="&quot;Liberation Serif&quot;, serif" font-style="italic" font-size="51.25" fill="#000">s</text>
<text transform="matrix(1.15614 0 0 0.91413 226.61 578.02)" font-family="&quot;Liberation Serif&quot;, serif" font-style="normal" font-size="35.11" fill="#000" stroke="#000" stroke-width="0.773">1</text>
<text transform="matrix(1.13270 0 0 1.01783 426.92 570.85)" font-family="&quot;Liberation Serif&quot;, serif" font-style="italic" font-size="50.42" fill="#000">a</text>
<text transform="matrix(1.16255 0 0 0.93612 453.34 580.60)" font-family="&quot;Liberation Serif&quot;, serif" font-style="normal" font-size="34.81" fill="#000" stroke="#000" stroke-width="0.762">1</text>
<text transform="matrix(1.19297 0 0 1.00190 672.57 573.43)" font-family="&quot;Liberation Serif&quot;, serif" font-style="italic" font-size="50.42" fill="#000">s</text>
<text transform="matrix(1.09241 0 0 0.93915 693.98 582.34)" font-family="&quot;Liberation Serif&quot;, serif" font-style="normal" font-size="34.24" fill="#000" stroke="#000" stroke-width="0.788">2</text>
<text transform="matrix(1.14175 0 0 1.01453 898.98 574.12)" font-family="&quot;Liberation Serif&quot;, serif" font-style="italic" font-size="50.42" fill="#000">a</text>
<text transform="matrix(1.04634 0 0 0.93532 927.51 582.33)" font-family="&quot;Liberation Serif&quot;, serif" font-style="normal" font-size="34.24" fill="#000" stroke="#000" stroke-width="0.807">2</text>
<text transform="matrix(1.19297 0 0 1.00190 1142.57 573.43)" font-family="&quot;Liberation Serif&quot;, serif" font-style="italic" font-size="50.42" fill="#000">s</text>
<text transform="matrix(1.03844 0 0 0.97128 1165.47 583.08)" font-family="&quot;Liberation Serif&quot;, serif" font-style="normal" font-size="34.18" fill="#000" stroke="#000" stroke-width="0.796">3</text>
<text transform="matrix(1.17901 0 0 0.99370 316.53 824.46)" font-family="&quot;Liberation Serif&quot;, serif" font-style="italic" font-size="52.04" fill="#000">r</text>
<text transform="matrix(1.05356 0 0 0.91938 336.54 834.08)" font-family="&quot;Liberation Serif&quot;, serif" font-style="normal" font-size="35.73" fill="#000" stroke="#000" stroke-width="0.811">1</text>
<text transform="matrix(1.20197 0 0 0.99941 543.36 824.46)" font-family="&quot;Liberation Serif&quot;, serif" font-style="italic" font-size="52.04" fill="#000">r</text>
<text transform="matrix(1.17681 0 0 0.99104 562.43 835.33)" font-family="&quot;Liberation Serif&quot;, serif" font-style="normal" font-size="34.66" fill="#000" stroke="#000" stroke-width="0.738">1</text>
<text transform="matrix(1.26428 0 0 0.98500 571.01 804.17)" font-family="&quot;Liberation Serif&quot;, serif" font-style="italic" font-size="36.52" fill="#000">i</text>
<text transform="matrix(1.21149 0 0 0.99851 773.97 832.17)" font-family="&quot;Liberation Serif&quot;, serif" font-style="italic" font-size="52.04" fill="#000">r</text>
<text transform="matrix(1.10889 0 0 0.99659 794.98 841.38)" font-family="&quot;Liberation Serif&quot;, serif" font-style="normal" font-size="33.33" fill="#000" stroke="#000" stroke-width="0.760">2</text>
<text transform="matrix(1.18925 0 0 1.00112 992.26 829.85)" font-family="&quot;Liberation Serif&quot;, serif" font-style="italic" font-size="52.47" fill="#000">r</text>
<text transform="matrix(1.08316 0 0 0.95367 1014.31 840.46)" font-family="&quot;Liberation Serif&quot;, serif" font-style="normal" font-size="33.33" fill="#000" stroke="#000" stroke-width="0.786">2</text>
<text transform="matrix(1.20669 0 0 1.01037 1019.89 809.30)" font-family="&quot;Liberation Serif&quot;, serif" font-style="italic" font-size="36.67" fill="#000">i</text>
<text transform="matrix(0.88570 0 0 0.97138 1050.71 1019.18)" font-family="&quot;Liberation Serif&quot;, serif" font-style="italic" font-size="52.77" fill="#000">R</text>
<text transform="matrix(1.17747 0 0 1.00301 1083.95 1016.67)" font-family="&quot;Liberation Serif&quot;, serif" font-style="normal" font-size="51.22" fill="#000">(</text>
<text transform="matrix(1.08464 0 0 0.98023 1102.69 1018.63)" font-family="&quot;Liberation Serif&quot;, serif" font-style="italic" font-size="53.55" fill="#000">τ</text>
<text transform="matrix(1.19778 0 0 0.98367 1126.20 1016.15)" font-family="&quot;Liberation Serif&quot;, serif" font-style="normal" font-size="51.22" fill="#000">)</text>
<text transform="matrix(1.08287 0 0 0.97931 1232.65 944.00)" font-family="&quot;Liberation Serif&quot;, serif" font-style="italic" font-size="34.92" fill="#000">T</text>
<text transform="matrix(1.22770 0 0 0.98155 1214.35 1082.78)" font-family="&quot;Liberation Serif&quot;, serif" font-style="italic" font-size="41.23" fill="#000">t</text>
<text transform="matrix(1.23277 0 0 0.97985 1257.46 1082.00)" font-family="&quot;Liberation Serif&quot;, serif" font-style="normal" font-size="35.42" fill="#000">1</text>
<text transform="matrix(1.16092 0 0 0.98978 1287.16 1019.67)" font-family="&quot;Liberation Serif&quot;, serif" font-style="italic" font-size="51.61" fill="#000">r</text>
<text transform="matrix(1.28118 0 0 0.97739 1306.28 1029.15)" font-family="&quot;Liberation Serif&quot;, serif" font-style="italic" font-size="39.30" fill="#000">t</text>
<text transform="matrix(1.14803 0 0 1.01792 1377.50 1020.76)" font-family="&quot;Liberation Serif&quot;, serif" font-style="italic" font-size="54.41" fill="#000">r</text>
<text transform="matrix(1.42791 0 0 0.99827 1396.73 1030.41)" font-family="&quot;Liberation Serif&quot;, serif" font-style="italic" font-size="37.89" fill="#000">t</text>
<text transform="matrix(1.33215 0 0 1.00000 1404.32 1000.00)" font-family="&quot;Liberation Serif&quot;, serif" font-style="italic" font-size="36.36" fill="#000">i</text>
</svg></body></html>
